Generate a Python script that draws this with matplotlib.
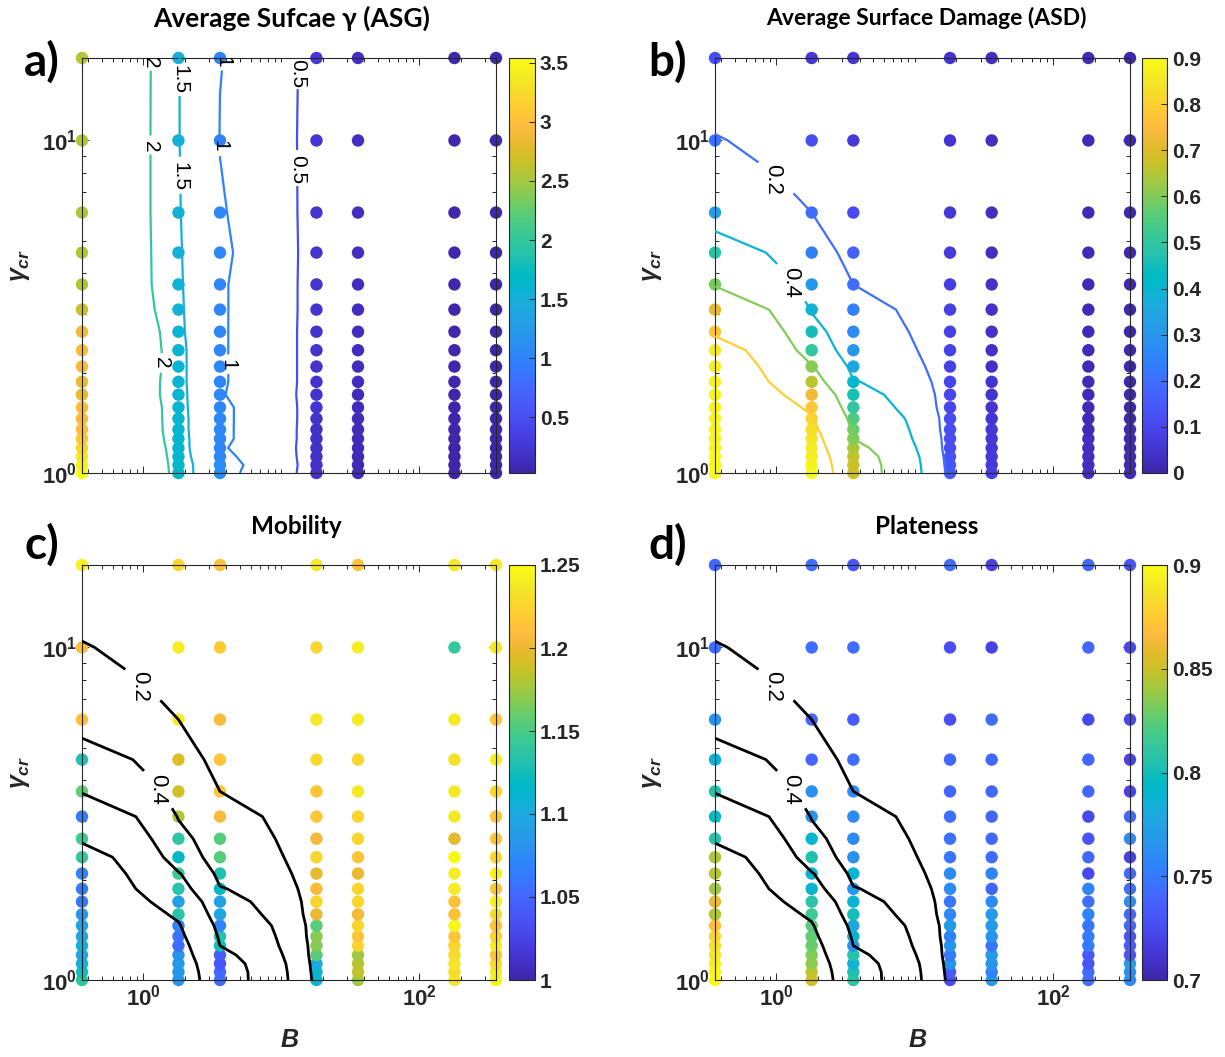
import numpy as np
import matplotlib
matplotlib.use('Agg')
import matplotlib.pyplot as plt
from matplotlib.colors import LinearSegmentedColormap, Normalize
from matplotlib.ticker import FixedLocator, LogLocator, NullFormatter

# grid of simulations
B = [0.36, 1.8, 3.6, 18, 36, 180, 360]
gamma_cr = [1.0, 1.057, 1.12, 1.189, 1.268, 1.352, 1.457, 1.575, 1.72, 1.88,
            2.09, 2.34, 2.66, 3.1, 3.69, 4.6, 6.07, 10.0, 17.7]

# values per column of B, rows from gamma_cr = 1 upwards
asg = [
    [3.54, 3.45, 3.35, 3.20, 3.05, 2.98, 2.95, 2.95, 2.82, 2.85, 2.95, 2.95, 2.88, 2.65, 2.56, 2.56, 2.55, 2.56, 2.57],
    [1.66, 1.65, 1.63, 1.62, 1.61, 1.60, 1.60, 1.59, 1.59, 1.58, 1.58, 1.58, 1.56, 1.55, 1.54, 1.53, 1.52, 1.51, 1.51],
    [1.09, 1.11, 1.07, 1.03, 1.055, 1.055, 1.055, 1.055, 1.02, 1.03, 1.03, 1.03, 1.03, 1.03, 1.03, 1.05, 1.025, 0.99, 1.01],
    [0.18, 0.19, 0.19, 0.20, 0.20, 0.20, 0.21, 0.21, 0.21, 0.22, 0.22, 0.22, 0.22, 0.23, 0.23, 0.23, 0.23, 0.24, 0.25],
    [0.11, 0.11, 0.11, 0.12, 0.12, 0.12, 0.12, 0.12, 0.12, 0.13, 0.13, 0.13, 0.13, 0.13, 0.13, 0.14, 0.14, 0.14, 0.14],
    [0.04, 0.04, 0.04, 0.04, 0.05, 0.05, 0.05, 0.05, 0.05, 0.05, 0.05, 0.05, 0.05, 0.05, 0.06, 0.06, 0.06, 0.06, 0.06],
    [0.03, 0.03, 0.03, 0.03, 0.03, 0.03, 0.04, 0.04, 0.04, 0.04, 0.04, 0.04, 0.04, 0.04, 0.04, 0.05, 0.05, 0.05, 0.05],
]
asd = [
    [0.90, 0.90, 0.90, 0.89, 0.89, 0.89, 0.89, 0.88, 0.88, 0.88, 0.87, 0.86, 0.78, 0.72, 0.59, 0.48, 0.32, 0.205, 0.12],
    [0.89, 0.88, 0.87, 0.86, 0.85, 0.83, 0.81, 0.78, 0.73, 0.66, 0.61, 0.50, 0.45, 0.39, 0.30, 0.24, 0.20, 0.12, 0.06],
    [0.68, 0.68, 0.67, 0.64, 0.60, 0.58, 0.55, 0.50, 0.46, 0.41, 0.35, 0.30, 0.27, 0.24, 0.20, 0.165, 0.11, 0.07, 0.05],
    [0.15, 0.14, 0.13, 0.12, 0.12, 0.11, 0.11, 0.10, 0.10, 0.095, 0.09, 0.09, 0.085, 0.085, 0.08, 0.07, 0.06, 0.05, 0.05],
    [0.08, 0.07, 0.07, 0.06, 0.06, 0.06, 0.05, 0.05, 0.05, 0.05, 0.04, 0.04, 0.04, 0.04, 0.04, 0.03, 0.03, 0.03, 0.03],
    [0.03, 0.03, 0.03, 0.03, 0.03, 0.02, 0.02, 0.02, 0.02, 0.02, 0.02, 0.02, 0.02, 0.02, 0.02, 0.02, 0.02, 0.02, 0.02],
    [0.02, 0.02, 0.02, 0.02, 0.02, 0.02, 0.01, 0.01, 0.01, 0.01, 0.01, 0.01, 0.01, 0.01, 0.01, 0.01, 0.01, 0.01, 0.01],
]
mobility = [
    [1.138, 1.125, 1.105, 1.093, 1.108, 1.095, 1.09, 1.083, 1.062, 1.065, 1.07, 1.14, 1.145, 1.063, 1.158, 1.13, 1.21, 1.21, 1.243],
    [1.083, 1.083, 1.085, 1.083, 1.055, 1.058, 1.068, 1.133, 1.093, 1.133, 1.145, 1.118, 1.137, 1.18, 1.19, 1.195, 1.24, 1.24, 1.225],
    [1.055, 1.05, 1.038, 1.043, 1.125, 1.13, 1.068, 1.095, 1.09, 1.118, 1.13, 1.155, 1.155, 1.208, 1.215, 1.215, 1.208, 1.218, 1.212],
    [1.113, 1.113, 1.10, 1.155, 1.168, 1.168, 1.155, 1.20, 1.225, 1.208, 1.198, 1.225, 1.205, 1.215, 1.215, 1.228, 1.238, 1.225, 1.238],
    [1.175, 1.185, 1.183, 1.175, 1.225, 1.215, 1.225, 1.205, 1.225, 1.225, 1.20, 1.215, 1.225, 1.225, 1.238, 1.225, 1.238, 1.24, 1.213],
    [1.235, 1.23, 1.235, 1.23, 1.225, 1.215, 1.248, 1.213, 1.213, 1.24, 1.24, 1.248, 1.198, 1.238, 1.238, 1.233, 1.238, 1.14, 1.238],
    [1.245, 1.24, 1.23, 1.215, 1.24, 1.225, 1.215, 1.23, 1.243, 1.215, 1.243, 1.225, 1.215, 1.215, 1.228, 1.24, 1.215, 1.238, 1.238],
]
plateness = [
    [0.90, 0.896, 0.894, 0.89, 0.886, 0.88, 0.87, 0.844, 0.86, 0.84, 0.846, 0.844, 0.806, 0.796, 0.804, 0.788, 0.766, 0.744, 0.74],
    [0.852, 0.848, 0.836, 0.834, 0.828, 0.826, 0.824, 0.816, 0.808, 0.79, 0.788, 0.804, 0.79, 0.766, 0.764, 0.74, 0.74, 0.744, 0.744],
    [0.81, 0.804, 0.786, 0.806, 0.764, 0.788, 0.776, 0.80, 0.788, 0.766, 0.788, 0.764, 0.76, 0.76, 0.76, 0.744, 0.734, 0.744, 0.73],
    [0.726, 0.734, 0.766, 0.75, 0.766, 0.754, 0.77, 0.758, 0.748, 0.76, 0.76, 0.748, 0.746, 0.744, 0.74, 0.74, 0.726, 0.726, 0.744],
    [0.77, 0.754, 0.766, 0.77, 0.748, 0.766, 0.768, 0.768, 0.76, 0.74, 0.756, 0.744, 0.74, 0.74, 0.74, 0.74, 0.744, 0.72, 0.72],
    [0.744, 0.744, 0.73, 0.734, 0.75, 0.75, 0.748, 0.756, 0.744, 0.756, 0.724, 0.74, 0.73, 0.724, 0.74, 0.74, 0.724, 0.74, 0.74],
    [0.76, 0.76, 0.77, 0.73, 0.734, 0.73, 0.74, 0.74, 0.76, 0.744, 0.74, 0.72, 0.76, 0.74, 0.72, 0.72, 0.724, 0.724, 0.73],
]

asg_levels = [0.5, 1, 1.5, 2]
asd_levels = [0.2, 0.4, 0.6, 0.8]
asd_labelled = [0.2, 0.4]

# MATLAB parula
parula_rgb = [
    [0.2422, 0.1504, 0.6603], [0.2504, 0.1650, 0.7076], [0.2578, 0.1818, 0.7511], [0.2647, 0.1978, 0.7952],
    [0.2706, 0.2147, 0.8364], [0.2751, 0.2342, 0.8710], [0.2783, 0.2559, 0.8991], [0.2803, 0.2782, 0.9221],
    [0.2813, 0.3006, 0.9414], [0.2810, 0.3228, 0.9579], [0.2795, 0.3447, 0.9717], [0.2760, 0.3667, 0.9829],
    [0.2699, 0.3892, 0.9906], [0.2602, 0.4123, 0.9952], [0.2440, 0.4358, 0.9988], [0.2206, 0.4603, 0.9973],
    [0.1963, 0.4847, 0.9892], [0.1834, 0.5074, 0.9798], [0.1786, 0.5289, 0.9682], [0.1764, 0.5499, 0.9520],
    [0.1687, 0.5703, 0.9359], [0.1540, 0.5902, 0.9218], [0.1460, 0.6091, 0.9079], [0.1380, 0.6276, 0.8973],
    [0.1248, 0.6459, 0.8883], [0.1113, 0.6635, 0.8763], [0.0952, 0.6798, 0.8598], [0.0689, 0.6948, 0.8394],
    [0.0297, 0.7082, 0.8163], [0.0036, 0.7203, 0.7917], [0.0067, 0.7312, 0.7660], [0.0433, 0.7411, 0.7394],
    [0.0964, 0.7500, 0.7120], [0.1408, 0.7584, 0.6842], [0.1717, 0.7670, 0.6554], [0.1938, 0.7758, 0.6251],
    [0.2161, 0.7843, 0.5923], [0.2470, 0.7918, 0.5567], [0.2906, 0.7973, 0.5188], [0.3406, 0.8008, 0.4789],
    [0.3909, 0.8029, 0.4354], [0.4456, 0.8024, 0.3909], [0.5044, 0.7993, 0.3480], [0.5616, 0.7942, 0.3045],
    [0.6174, 0.7876, 0.2612], [0.6720, 0.7793, 0.2227], [0.7242, 0.7698, 0.1910], [0.7738, 0.7598, 0.1646],
    [0.8203, 0.7498, 0.1535], [0.8634, 0.7406, 0.1596], [0.9035, 0.7330, 0.1774], [0.9393, 0.7288, 0.2100],
    [0.9728, 0.7298, 0.2394], [0.9956, 0.7434, 0.2371], [0.9970, 0.7659, 0.2199], [0.9952, 0.7893, 0.2028],
    [0.9892, 0.8136, 0.1885], [0.9786, 0.8386, 0.1766], [0.9676, 0.8639, 0.1643], [0.9610, 0.8890, 0.1537],
    [0.9597, 0.9135, 0.1423], [0.9628, 0.9373, 0.1265], [0.9691, 0.9606, 0.1064], [0.9769, 0.9839, 0.0805],
]
parula = LinearSegmentedColormap.from_list('parula', parula_rgb)

plt.rcParams['font.family'] = ['Liberation Sans', 'DejaVu Sans']
plt.rcParams['font.weight'] = 'bold'
plt.rcParams['mathtext.fontset'] = 'custom'
plt.rcParams['mathtext.it'] = 'Liberation Sans:italic:bold'
plt.rcParams['mathtext.rm'] = 'Liberation Sans:bold'

W, H = 1225, 1057
fig = plt.figure(figsize=(W / 100, H / 100), dpi=100)
axc = '#262626'


def px_rect(x0, y0, x1, y1):
    return [x0 / W, 1 - y1 / H, (x1 - x0) / W, (y1 - y0) / H]


X, Y = np.meshgrid(B, gamma_cr)
Z_asd = np.array(asd).T

panels = [
    # values, clim, axes box, colorbar box, cbar ticks
    (asg, None, (82, 58, 496, 473), (509, 58, 535, 473), [0.5, 1, 1.5, 2, 2.5, 3, 3.5]),
    (asd, (0, 0.9), (715, 58, 1130, 473), (1142, 58, 1167, 473), [0, 0.1, 0.2, 0.3, 0.4, 0.5, 0.6, 0.7, 0.8, 0.9]),
    (mobility, (1, 1.25), (82, 565, 496, 980), (509, 565, 535, 980), [1, 1.05, 1.1, 1.15, 1.2, 1.25]),
    (plateness, (0.7, 0.9), (715, 565, 1130, 980), (1142, 565, 1167, 980), [0.7, 0.75, 0.8, 0.85, 0.9]),
]

axes = []
for i, (vals, clim, box, cbox, cticks) in enumerate(panels):
    ax = fig.add_axes(px_rect(*box))
    Z = np.array(vals).T
    lims = (Z.min(), Z.max()) if clim is None else clim
    sc = ax.scatter(X.ravel(), Y.ravel(), c=Z.ravel(), cmap=parula, norm=Normalize(*lims),
                    s=80, linewidths=0, clip_on=False, zorder=2)
    ax.set_xscale('log')
    ax.set_yscale('log')
    ax.set_xlim(min(B), max(B))
    ax.set_ylim(min(gamma_cr), max(gamma_cr))
    ax.xaxis.set_major_locator(FixedLocator([1, 100]))
    ax.xaxis.set_minor_locator(LogLocator(base=10, subs=np.arange(1, 10)))
    ax.xaxis.set_minor_formatter(NullFormatter())
    ax.yaxis.set_major_locator(FixedLocator([1, 10]))
    ax.yaxis.set_minor_locator(LogLocator(base=10, subs=np.arange(1, 10)))
    ax.yaxis.set_minor_formatter(NullFormatter())
    ax.tick_params(which='both', direction='in', top=True, right=True, colors=axc,
                   labelsize=16, width=0.7)
    ax.tick_params(which='major', length=5)
    ax.tick_params(which='minor', length=3)
    if i < 2:
        ax.tick_params(labelbottom=False)
    for s in ax.spines.values():
        s.set_color(axc)
        s.set_linewidth(0.8)
    axes.append((ax, sc, lims, cbox, cticks))

# contours (own norm so the scatter colour scale is left alone)
ax_a, _, lims_a, _, _ = axes[0]
cs = ax_a.contour(B, gamma_cr, np.array(asg).T, levels=asg_levels, cmap=parula,
                  norm=Normalize(*lims_a), linewidths=1.6, zorder=3)
lab = ax_a.clabel(cs, fmt='%g', fontsize=15, colors='k', inline_spacing=4,
                  manual=[(1.12, 17.1), (1.12, 9.6), (1.21, 2.14), (1.79, 15.2), (1.89, 7.8),
                          (3.7, 17.3), (3.45, 9.6), (4.26, 2.12), (13.0, 15.9), (13.0, 8.2)])
for t in lab:
    t.set_fontweight('normal')
    t.set_rotation(-90)

for k in (1, 2, 3):
    ax, _, lims, _, _ = axes[k]
    if k == 1:
        cs = ax.contour(B, gamma_cr, Z_asd, levels=asd_levels, cmap=parula,
                        norm=Normalize(*lims), linewidths=1.6, zorder=3)
    else:
        cs = ax.contour(B, gamma_cr, Z_asd, levels=asd_levels, colors='k',
                        linewidths=2.0, zorder=3)
    lab = ax.clabel(cs, levels=asd_labelled, fmt='%g', fontsize=16, colors='k',
                    inline_spacing=8, manual=[(1.0, 7.9), (1.27, 3.73)])
    for t in lab:
        t.set_fontweight('normal')
        t.set_rotation(-90)

# colorbars
for ax, sc, lims, cbox, cticks in axes:
    cax = fig.add_axes(px_rect(*cbox))
    cb = fig.colorbar(sc, cax=cax)
    cb.set_ticks(cticks, labels=['%g' % v for v in cticks])
    cb.ax.tick_params(direction='in', length=4, width=0.7, colors=axc, labelsize=15)
    cb.outline.set_edgecolor(axc)
    cb.outline.set_linewidth(0.8)

# titles and labels
title_font = ['Lato', 'DejaVu Sans']
fig.text(292 / W, 1 - 18 / H, 'Average Sufcae γ (ASG)', ha='center', va='center',
         fontsize=19, fontweight='bold', family=title_font)
fig.text(926 / W, 1 - 18 / H, 'Average Surface Damage (ASD)', ha='center', va='center',
         fontsize=16.5, fontweight='bold', family=title_font)
fig.text(296 / W, 1 - 527 / H, 'Mobility', ha='center', va='center',
         fontsize=17.5, fontweight='bold', family=title_font)
fig.text(927 / W, 1 - 527 / H, 'Plateness', ha='center', va='center',
         fontsize=17.5, fontweight='bold', family=title_font)

for lbl, x, y in [('a)', 24, 62), ('b)', 648, 62), ('c)', 24, 545), ('d)', 648, 545)]:
    fig.text(x / W, 1 - y / H, lbl, ha='left', va='center', fontsize=33,
             fontweight='bold', family=title_font)

for x, y in [(20, 265), (652, 265), (20, 772), (652, 772)]:
    fig.text(x / W, 1 - y / H, r'$\gamma_{cr}$', ha='center', va='center',
             rotation=90, fontsize=18, color=axc)

for x in (290, 918):
    fig.text(x / W, 1 - 1040 / H, 'B', ha='center', va='center', fontsize=18,
             fontweight='bold', style='italic', color=axc)

fig.savefig('out.png', dpi=100)
